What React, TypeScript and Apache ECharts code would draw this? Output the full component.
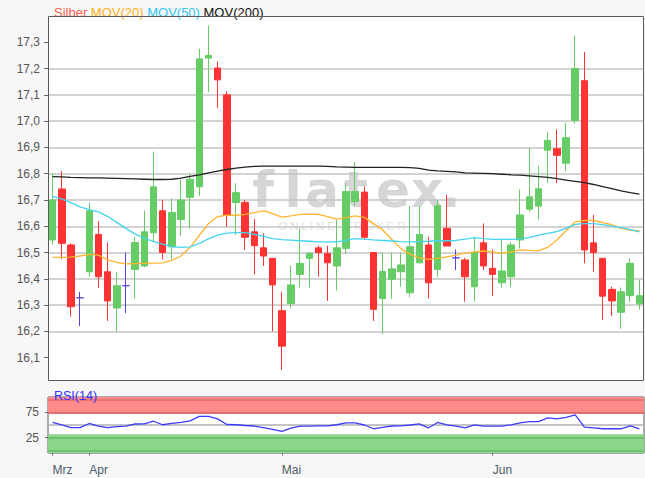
import React, { useEffect, useRef } from "react";
import * as echarts from "echarts";

const opens = [16.548,16.742,16.529,16.328,16.427,16.569,16.427,16.289,16.374,16.436,16.449,16.575,16.659,16.522,16.626,16.71,16.75,17.24,17.202,17.10,16.69,16.691,16.579,16.518,16.478,16.279,16.306,16.417,16.478,16.518,16.497,16.449,16.516,16.694,16.73,16.50,16.325,16.398,16.427,16.347,16.461,16.529,16.436,16.592,16.48,16.472,16.37,16.537,16.44,16.385,16.408,16.548,16.665,16.677,16.889,16.895,16.84,17.003,17.154,16.537,16.478,16.36,16.273,16.336,16.305];
const closes = [16.70,16.535,16.294,16.328,16.659,16.408,16.316,16.374,16.374,16.538,16.579,16.75,16.50,16.652,16.70,16.779,17.237,17.25,17.157,16.643,16.728,16.558,16.526,16.487,16.377,16.144,16.377,16.459,16.497,16.50,16.461,16.518,16.732,16.732,16.558,16.284,16.428,16.438,16.453,16.522,16.569,16.385,16.678,16.525,16.48,16.408,16.50,16.449,16.417,16.43,16.529,16.643,16.712,16.743,16.927,16.87,16.937,17.20,16.51,16.50,16.334,16.316,16.351,16.459,16.336];
const lows = [16.53,16.475,16.256,16.22,16.408,16.366,16.24,16.20,16.27,16.326,16.444,16.54,16.474,16.474,16.563,16.592,16.715,17.11,17.05,16.598,16.567,16.51,16.417,16.449,16.20,16.053,16.288,16.367,16.367,16.408,16.316,16.356,16.497,16.677,16.55,16.24,16.19,16.324,16.37,16.33,16.459,16.324,16.408,16.525,16.433,16.313,16.313,16.433,16.335,16.367,16.367,16.516,16.655,16.626,16.765,16.765,16.81,16.99,16.459,16.427,16.244,16.259,16.21,16.313,16.283];
const highs = [16.80,16.81,16.535,16.35,16.69,16.62,16.539,16.427,16.50,16.56,16.66,16.884,16.70,16.706,16.78,16.80,17.275,17.364,17.227,17.114,16.764,16.70,16.627,16.573,16.48,16.351,16.45,16.592,16.50,16.526,16.526,16.624,16.765,16.844,16.751,16.50,16.50,16.50,16.50,16.677,16.677,16.56,16.70,16.72,16.512,16.48,16.56,16.611,16.512,16.548,16.541,16.74,16.899,16.83,16.96,16.969,16.994,17.326,17.263,16.643,16.48,16.37,16.367,16.478,16.396];

const ma20 = [16.482,16.482,16.483,16.487,16.493,16.49,16.472,16.463,16.457,16.458,16.459,16.46,16.461,16.47,16.487,16.52,16.565,16.61,16.637,16.642,16.642,16.645,16.652,16.659,16.648,16.635,16.64,16.645,16.646,16.645,16.637,16.627,16.633,16.64,16.634,16.61,16.586,16.55,16.515,16.493,16.48,16.474,16.478,16.484,16.49,16.498,16.503,16.506,16.503,16.497,16.503,16.51,16.508,16.507,16.52,16.548,16.583,16.617,16.622,16.622,16.614,16.606,16.592,16.585,16.582];
const ma50 = [16.714,16.704,16.69,16.674,16.663,16.655,16.638,16.615,16.592,16.57,16.555,16.542,16.532,16.523,16.52,16.522,16.535,16.552,16.566,16.574,16.576,16.576,16.569,16.562,16.553,16.549,16.547,16.545,16.543,16.541,16.541,16.541,16.546,16.553,16.551,16.548,16.546,16.544,16.542,16.541,16.542,16.543,16.545,16.545,16.546,16.551,16.557,16.553,16.55,16.55,16.55,16.551,16.558,16.566,16.573,16.58,16.592,16.607,16.61,16.61,16.606,16.601,16.595,16.587,16.579];
const ma200 = [16.789,16.788,16.786,16.785,16.784,16.784,16.783,16.782,16.781,16.78,16.779,16.778,16.778,16.779,16.783,16.79,16.796,16.803,16.81,16.816,16.821,16.825,16.828,16.829,16.829,16.829,16.829,16.829,16.829,16.829,16.828,16.826,16.825,16.824,16.824,16.824,16.824,16.824,16.824,16.823,16.82,16.814,16.811,16.809,16.807,16.803,16.802,16.801,16.8,16.798,16.796,16.795,16.792,16.789,16.786,16.781,16.776,16.771,16.766,16.759,16.751,16.743,16.735,16.728,16.722];
const rsi14 = [55,50.4,45,45,53,48,45,47,47.7,52,52.3,57.4,50.5,53,55,58,67,67,62,51,50.5,49,48,45,41.5,37.3,43.8,47.7,47.7,48.4,48.4,50.5,54.3,54.3,50,42.6,45.5,48,48.4,50,52.3,44.5,55,50.4,47.7,44.5,50.4,47.7,47.7,47.7,50.4,54,56.8,56.8,64,62,65,70,45.7,44.5,42.6,42.6,42.6,48.4,42.6];

const monthLabels = ["Mrz", "Apr", "Mai", "Jun"];
const monthStarts = [0, 4, 25, 48];
const priceTicks = [16.1, 16.2, 16.3, 16.4, 16.5, 16.6, 16.7, 16.8, 16.9, 17.0, 17.1, 17.2, 17.3];
const rsiTicks = [25, 75];

const FONT = "Liberation Sans, Arial, sans-serif";
const UP = "#66cc66";
const DOWN = "#ff3333";
const DOJI = "#5544dd";

export default function App() {
  const ref = useRef<HTMLDivElement>(null);
  useEffect(() => {
    const chart = echarts.init(ref.current as HTMLDivElement, null, { renderer: "svg" });
    const categories = opens.map((_, i) => String(i));
    const candleData = opens.map((o, i) => {
      const item: any = { value: [o, closes[i], lows[i], highs[i]] };
      if (o === closes[i]) {
        item.itemStyle = { color: DOJI, color0: DOJI, borderColor: DOJI, borderColor0: DOJI };
      }
      return item;
    });
    const isMonth = (idx: number) => monthStarts.indexOf(idx) >= 0;

    const wmLetters = [
      { t: "f", x: 263 }, { t: "l", x: 293 }, { t: "a", x: 322 }, { t: "t", x: 356 },
      { t: "e", x: 393 }, { t: "x", x: 427 }, { t: ".", x: 451 },
    ];

    chart.setOption({
      animation: false,
      backgroundColor: "#f7f7f7",
      textStyle: { fontFamily: FONT },
      title: [
        {
          left: 49,
          top: 1,
          text: "{r|Silber} {o|MOV(20)} {c|MOV(50)} {k|MOV(200)}",
          textStyle: {
            fontSize: 13,
            fontWeight: "normal",
            fontFamily: FONT,
            rich: {
              r: { color: "#ff5f50", fontSize: 13, fontFamily: FONT },
              o: { color: "#ffb020", fontSize: 13, fontFamily: FONT },
              c: { color: "#30c8f0", fontSize: 13, fontFamily: FONT },
              k: { color: "#111111", fontSize: 13, fontFamily: FONT },
            },
          },
        },
        {
          left: 49,
          top: 384,
          text: "RSI(14)",
          textStyle: { fontSize: 12.5, fontWeight: "normal", color: "#3333ff", fontFamily: FONT },
        },
      ],
      graphic: [
        {
          type: "rect",
          z: -10,
          silent: true,
          shape: { x: 48, y: 16, width: 596, height: 365 },
          style: { fill: "#ffffff" },
        },
        ...wmLetters.map((l) => ({
          type: "text",
          z: -5,
          silent: true,
          x: l.x,
          y: 215,
          style: {
            text: l.t,
            fill: "#d6d6d6",
            font: "bold 50px 'DejaVu Sans'",
            textAlign: "center",
            textVerticalAlign: "bottom",
          },
        })),
        {
          type: "text",
          z: -5,
          silent: true,
          x: 342,
          y: 226,
          style: {
            text: "O N L I N E   B R O K E R",
            fill: "#e0e0e0",
            font: "11px 'Liberation Sans'",
            textAlign: "center",
            textVerticalAlign: "middle",
          },
        },
        {
          type: "rect",
          z: 100,
          silent: true,
          shape: { x: 48.5, y: 16.5, width: 595, height: 364 },
          style: { fill: "none", stroke: "#5a5a5a", lineWidth: 1 },
        },
      ],
      grid: [
        { left: 48, width: 596, top: 16, height: 368, show: false },
        {
          left: 48, width: 596, top: 397, height: 56, show: true,
          backgroundColor: "#ffffff", borderColor: "#5a5a5a", borderWidth: 1,
        },
      ],
      xAxis: [
        { type: "category", gridIndex: 0, data: categories, boundaryGap: true, show: false },
        {
          type: "category",
          gridIndex: 1,
          data: categories,
          boundaryGap: true,
          axisLine: { show: false },
          axisTick: {
            show: true,
            alignWithLabel: true,
            interval: (idx: number) => isMonth(idx),
            length: 5,
            lineStyle: { color: "#556677" },
          },
          axisLabel: {
            interval: (idx: number) => isMonth(idx),
            formatter: (_v: string, idx: number) => {
              const k = monthStarts.indexOf(idx);
              return k >= 0 ? monthLabels[k] : "";
            },
            align: "left",
            color: "#4a5a6a",
            fontSize: 12,
            fontFamily: FONT,
            margin: 11,
          },
          splitLine: { show: false },
        },
      ],
      yAxis: [
        {
          type: "value",
          gridIndex: 0,
          min: 16.0,
          max: 17.4,
          interval: 0.1,
          axisLine: { show: false },
          axisTick: {
            show: true,
            length: 4,
            customValues: priceTicks,
            lineStyle: { color: "#666666" },
          },
          axisLabel: {
            customValues: priceTicks,
            formatter: (v: number) =>
              v < 16.05 || v > 17.35 ? "" : v.toFixed(1).replace(".", ","),
            color: "#555555",
            fontSize: 12,
            fontFamily: FONT,
            margin: 8,
          },
          splitLine: {
            show: true,
            showMinLine: false,
            showMaxLine: false,
            lineStyle: { color: "#c4c4c4", width: 1.5 },
          },
        },
        {
          type: "value",
          gridIndex: 1,
          min: -5,
          max: 105,
          axisLine: { show: false },
          axisTick: {
            show: true,
            length: 3,
            customValues: rsiTicks,
            lineStyle: { color: "#666666" },
          },
          axisLabel: {
            customValues: rsiTicks,
            formatter: (v: number) => (v === 25 || v === 75 ? String(v) : ""),
            color: "#555555",
            fontSize: 12,
            fontFamily: FONT,
            margin: 9,
          },
          splitLine: { show: false },
        },
      ],
      series: [
        {
          type: "candlestick",
          name: "Silber",
          xAxisIndex: 0,
          yAxisIndex: 0,
          data: candleData,
          barWidth: 7,
          itemStyle: {
            color: UP,
            color0: DOWN,
            borderColor: UP,
            borderColor0: DOWN,
            borderColorDoji: DOJI,
            borderWidth: 1,
          },
          z: 2,
        },
        {
          type: "line", name: "MOV(20)", xAxisIndex: 0, yAxisIndex: 0, data: ma20,
          symbol: "none", lineStyle: { color: "#ffb52e", width: 1.3 }, z: 3,
        },
        {
          type: "line", name: "MOV(50)", xAxisIndex: 0, yAxisIndex: 0, data: ma50,
          symbol: "none", lineStyle: { color: "#44d4ee", width: 1.3 }, z: 3,
        },
        {
          type: "line", name: "MOV(200)", xAxisIndex: 0, yAxisIndex: 0, data: ma200,
          symbol: "none", lineStyle: { color: "#222222", width: 1.3 }, z: 3,
        },
        {
          type: "line",
          name: "RSI(14)",
          xAxisIndex: 1,
          yAxisIndex: 1,
          data: rsi14,
          symbol: "none",
          lineStyle: { color: "#3b3bff", width: 1.3 },
          z: 6,
          markArea: {
            silent: true,
            data: [
              [{ yAxis: 72, itemStyle: { color: "#ff8a8a" } }, { yAxis: 105 }],
              [{ yAxis: -5, itemStyle: { color: "#8ad68a" } }, { yAxis: 32 }],
            ],
          },
          markLine: {
            silent: true,
            symbol: ["none", "none"],
            label: { show: false },
            data: [
              { yAxis: 100, lineStyle: { color: "#e06a6a", width: 1.5, type: "solid" } },
              { yAxis: 75, lineStyle: { color: "#d86060", width: 1.5, type: "solid" } },
              { yAxis: 50, lineStyle: { color: "#b0b0b0", width: 1.5, type: "solid" } },
              { yAxis: 25, lineStyle: { color: "#66b866", width: 1.5, type: "solid" } },
              { yAxis: 0, lineStyle: { color: "#66b866", width: 1.5, type: "solid" } },
            ],
          },
        },
      ],
    });
    return () => chart.dispose();
  }, []);
  return (
    <div
      ref={ref}
      style={{ position: "absolute", left: 0, top: 0, width: 645, height: 478 }}
    />
  );
}
